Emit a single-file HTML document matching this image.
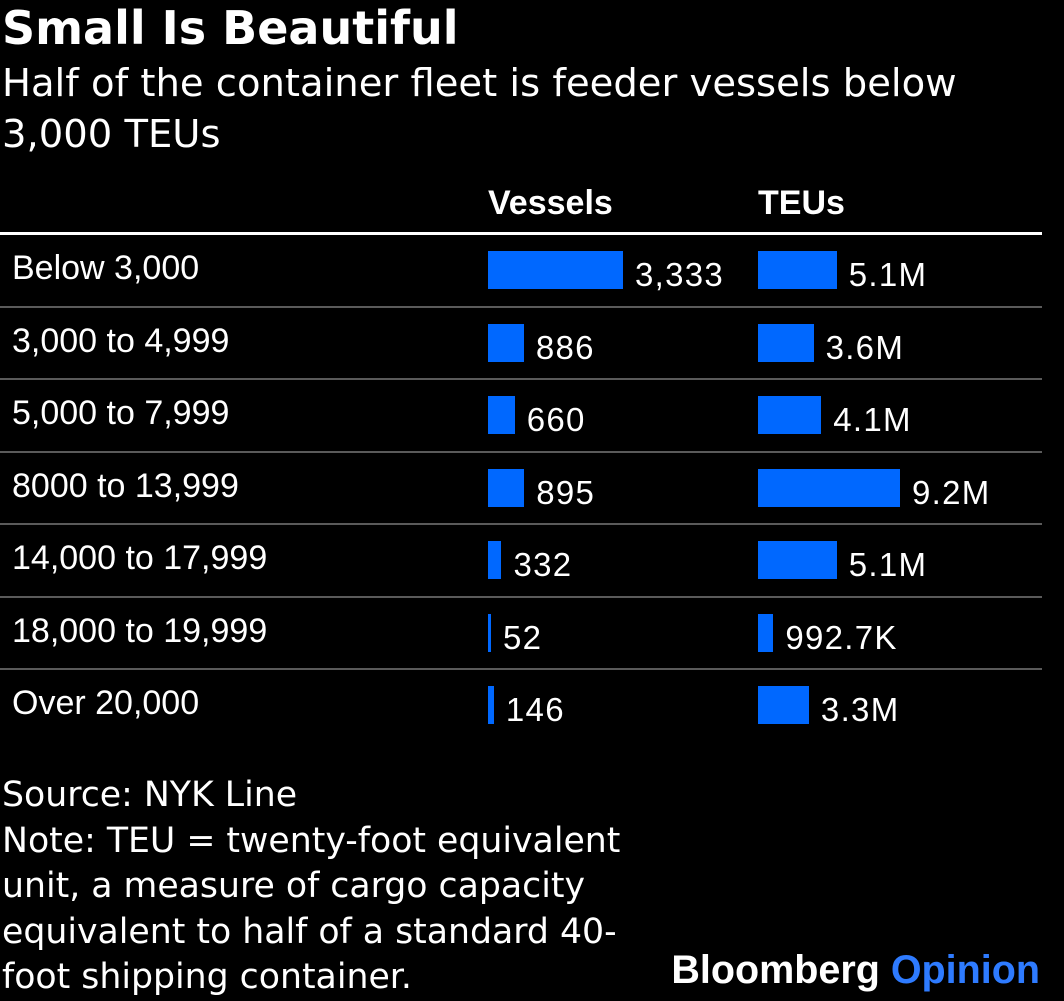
<!DOCTYPE html>
<html><head><meta charset="utf-8">
<style>
body{margin:0;background:#000;width:1064px;height:999px;overflow:hidden;position:relative;color:#fff}
.t{position:absolute;white-space:nowrap}
#title{left:2px;top:-2px;font:bold 46px "DejaVu Sans",sans-serif;line-height:60px}
#sub{left:2px;top:58px;font:38.5px "DejaVu Sans",sans-serif;line-height:51px}
.hdr{font:bold 34px "Liberation Sans",sans-serif;top:184px}
.lab{font:34px "Liberation Sans",sans-serif}
.val{font:33px "Liberation Sans",sans-serif;letter-spacing:1.3px}
#src{left:2px;top:773px;font:34.7px "DejaVu Sans",sans-serif;line-height:45.5px}
#brand{right:24px;top:948px;font:bold 39.5px "Liberation Sans",sans-serif}
</style></head><body>
<div class="t" id="title">Small Is Beautiful</div>
<div class="t" id="sub">Half of the container fleet is feeder vessels below<br>3,000 TEUs</div>
<div class="t hdr" style="left:488px">Vessels</div>
<div class="t hdr" style="left:758px">TEUs</div>
<div style="position:absolute;left:0;top:232px;width:1042px;height:3px;background:#fff"></div>
<div id="rows"></div>
<div class="t" id="src">Source: NYK Line<br>Note: TEU = twenty-foot equivalent<br>unit, a measure of cargo capacity<br>equivalent to half of a standard 40-<br>foot shipping container.</div>
<div class="t" id="brand">Bloomberg <span style="color:#2e7bff">Opinion</span></div>
<script>
const categories=["Below 3,000","3,000 to 4,999","5,000 to 7,999","8000 to 13,999","14,000 to 17,999","18,000 to 19,999","Over 20,000"];
const vessels=[3333,886,660,895,332,52,146];
const vesselLabels=["3,333","886","660","895","332","52","146"];
const teus=[5.1,3.6,4.1,9.2,5.1,0.9927,3.3];
const teuLabels=["5.1M","3.6M","4.1M","9.2M","5.1M","992.7K","3.3M"];
const rows=document.getElementById('rows');
const rowH=72.5, top0=235;
const vx=488, vMax=3333, vW=135;
const tx=758, tMax=9.2, tW=142;
function add(css,cls,txt){const d=document.createElement('div');d.style.cssText=css;if(cls)d.className=cls;if(txt!==undefined)d.textContent=txt;rows.appendChild(d);return d;}
categories.forEach((c,i)=>{
  const y=top0+i*rowH;
  let l=add(`left:12px;top:${y+14}px`,'t lab',c);
  
  
  const w1=Math.max(3,vessels[i]/vMax*vW);
  let b=add(`position:absolute;left:${vx}px;top:${y+16}px;width:${w1}px;height:38px;background:#0068ff`);
  
  
  let v=add(`left:${vx+w1+12}px;top:${y+21}px`,'t val',vesselLabels[i]);
  
  
  const w2=Math.max(3,teus[i]/tMax*tW);
  let b2=add(`position:absolute;left:${tx}px;top:${y+16}px;width:${w2}px;height:38px;background:#0068ff`);
  
  
  let v2=add(`left:${tx+w2+12}px;top:${y+21}px`,'t val',teuLabels[i]);
  
  
  if(i<categories.length-1){
    let s=add(`position:absolute;left:0;top:${y+rowH-2}px;width:1042px;height:2px;background:#5a5a5a`);
    
    
  }
});
</script>
</body></html>
